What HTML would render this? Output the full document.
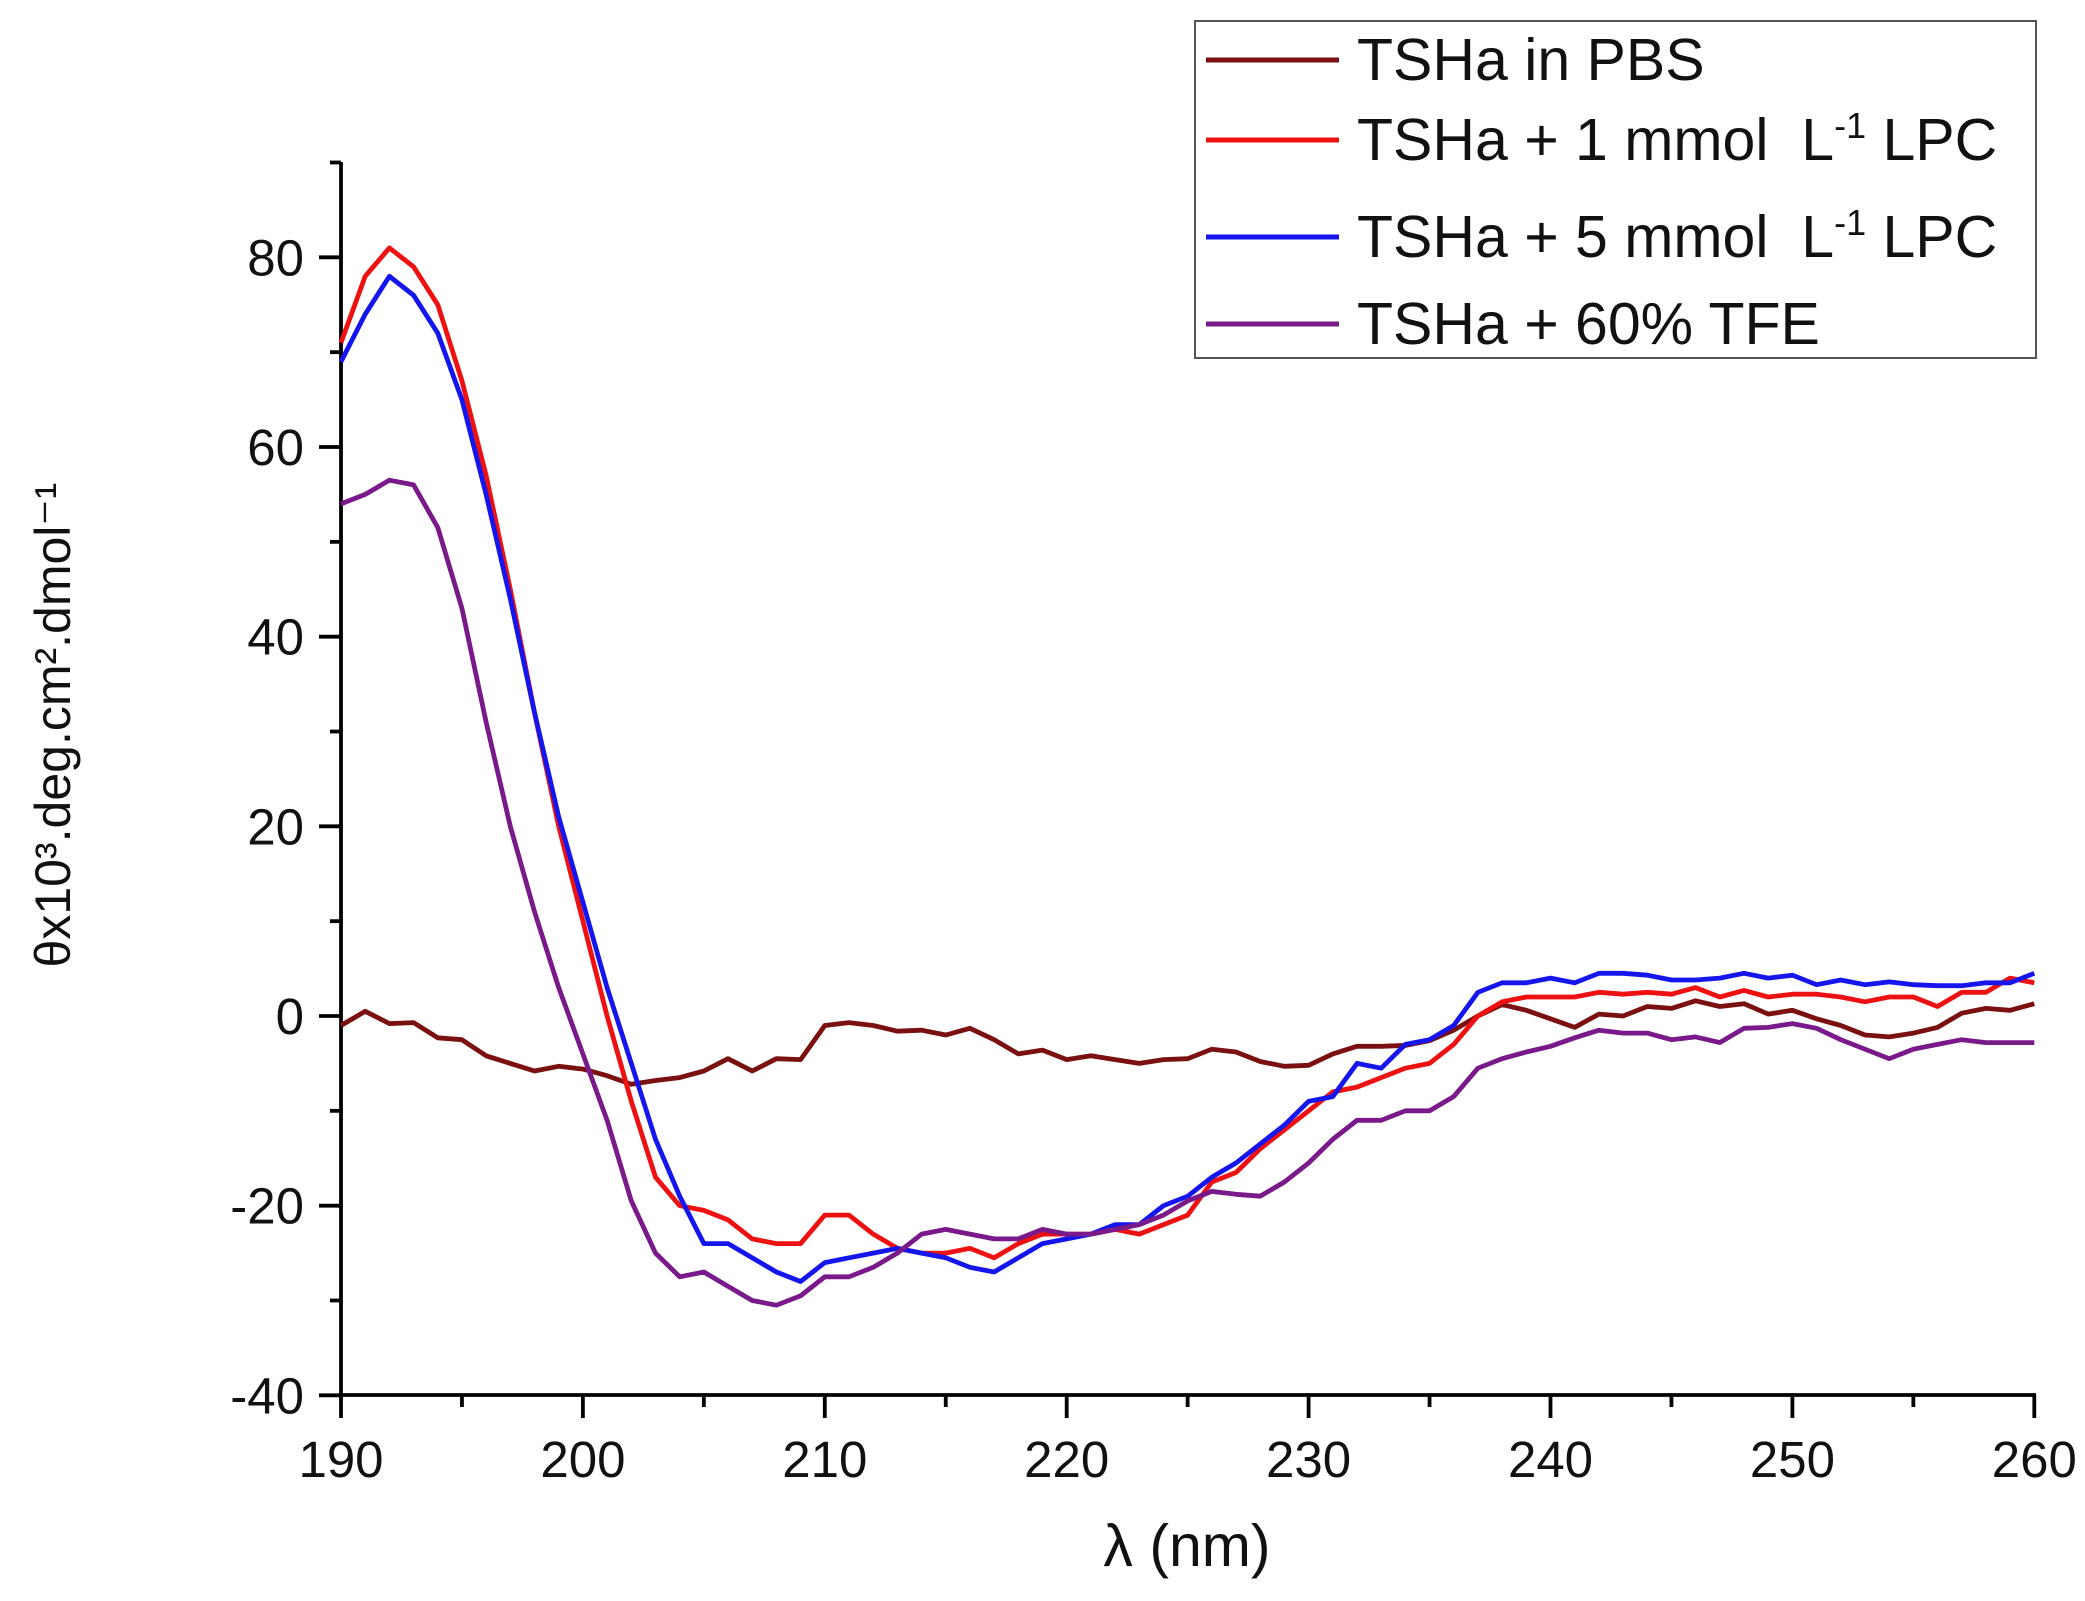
<!DOCTYPE html>
<html><head><meta charset="utf-8"><style>
html,body{margin:0;padding:0;background:#fff;}
svg{display:block;font-family:"Liberation Sans",Arial,sans-serif;}
</style></head><body>
<svg id="s" width="2085" height="1601" viewBox="0 0 2085 1601" xmlns="http://www.w3.org/2000/svg">
<rect width="2085" height="1601" fill="#fff"/>
<g id="axes" stroke="#000" stroke-width="3.8" fill="none"></g>
<g id="lbl" font-size="51" fill="#111"></g>
<g id="series" fill="none" stroke-width="4.8" stroke-linejoin="round"></g>
<text x="1187" y="1566" font-size="59" text-anchor="middle" fill="#111">λ (nm)</text>
<text transform="translate(70,725) rotate(-90)" font-size="50" text-anchor="middle" fill="#111">θx10³.deg.cm².dmol⁻¹</text>
<rect x="1195" y="21" width="841" height="337" fill="#fff" stroke="#555" stroke-width="2"/>
<g stroke-width="5">
<line x1="1206" y1="60" x2="1339" y2="60" stroke="#7a1010"/>
<line x1="1206" y1="140" x2="1339" y2="140" stroke="#ee1111"/>
<line x1="1206" y1="237" x2="1339" y2="237" stroke="#1515ee"/>
<line x1="1206" y1="324" x2="1339" y2="324" stroke="#7a1a8a"/>
</g>
<g font-size="59" fill="#111">
<text x="1357" y="80">TSHa in PBS</text>
<text x="1357" y="160">TSHa + 1 mmol&#160; L<tspan dy="-22" font-size="36">-1</tspan><tspan dy="22"> LPC</tspan></text>
<text x="1357" y="257">TSHa + 5 mmol&#160; L<tspan dy="-22" font-size="36">-1</tspan><tspan dy="22"> LPC</tspan></text>
<text x="1357" y="344">TSHa + 60% TFE</text>
</g>
</svg>
<script>
const X=v=>341+(v-190)*24.19, Y=v=>1016-v*9.4833;
const ns="http://www.w3.org/2000/svg";
function el(p,t,a,txt){const e=document.createElementNS(ns,t);for(const k in a)e.setAttribute(k,a[k]);if(txt!==undefined)e.textContent=txt;document.getElementById(p).appendChild(e);}
el('axes','line',{x1:341,y1:162,x2:341,y2:1397});
el('axes','line',{x1:339,y1:1395,x2:2036,y2:1395});
for(let v=190;v<=260;v+=5){const x=X(v),maj=v%10==0;el('axes','line',{x1:x,y1:1395,x2:x,y2:1395+(maj?23:12)});if(maj)el('lbl','text',{x:x,y:1477,'text-anchor':'middle'},String(v));}
for(let v=-40;v<=90;v+=10){const y=Y(v),maj=v%20==0;el('axes','line',{x1:341,y1:y,x2:341-(maj?22:11),y2:y});if(maj)el('lbl','text',{x:304,y:y+18,'text-anchor':'end'},String(v));}
const D={
"#7a1010":[-1,0.5,-0.8,-0.7,-2.3,-2.5,-4.2,-5,-5.8,-5.3,-5.6,-6.3,-7.2,-6.8,-6.5,-5.8,-4.5,-5.8,-4.5,-4.6,-1,-0.7,-1,-1.6,-1.5,-2,-1.3,-2.5,-4,-3.6,-4.6,-4.2,-4.6,-5,-4.6,-4.5,-3.5,-3.8,-4.8,-5.3,-5.2,-4,-3.2,-3.2,-3.1,-2.6,-1.5,0,1.2,0.6,-0.3,-1.2,0.2,0,1,0.8,1.6,1,1.3,0.2,0.6,-0.3,-1,-2,-2.2,-1.8,-1.2,0.3,0.8,0.6,1.3],
"#ee1111":[71,78,81,79,75,67,57,45,32,20,10,0,-9,-17,-20,-20.5,-21.5,-23.5,-24,-24,-21,-21,-23,-24.5,-25,-25,-24.5,-25.5,-24,-23,-23,-23,-22.5,-23,-22,-21,-17.5,-16.5,-14,-12,-10,-8,-7.5,-6.5,-5.5,-5,-3,0,1.5,2,2,2,2.5,2.3,2.5,2.3,3,2,2.7,2,2.3,2.3,2,1.5,2,2,1,2.5,2.5,4,3.5],
"#1515ee":[69,74,78,76,72,65,55,44,32,21,12,3,-5,-13,-19,-24,-24,-25.5,-27,-28,-26,-25.5,-25,-24.5,-25,-25.5,-26.5,-27,-25.5,-24,-23.5,-23,-22,-22,-20,-19,-17,-15.5,-13.5,-11.5,-9,-8.5,-5,-5.5,-3,-2.5,-1,2.5,3.5,3.5,4,3.5,4.5,4.5,4.3,3.8,3.8,4,4.5,4,4.3,3.3,3.8,3.3,3.6,3.3,3.2,3.2,3.5,3.5,4.5],
"#7a1a8a":[54,55,56.5,56,51.5,43,31,20,11,3,-4,-11,-19.5,-25,-27.5,-27,-28.5,-30,-30.5,-29.5,-27.5,-27.5,-26.5,-25,-23,-22.5,-23,-23.5,-23.5,-22.5,-23,-23,-22.5,-22,-21,-19.5,-18.5,-18.8,-19,-17.5,-15.5,-13,-11,-11,-10,-10,-8.5,-5.5,-4.5,-3.8,-3.2,-2.3,-1.5,-1.8,-1.8,-2.5,-2.2,-2.8,-1.3,-1.2,-0.8,-1.3,-2.5,-3.5,-4.5,-3.5,-3,-2.5,-2.8,-2.8,-2.8]};
for(const c in D){const d=D[c].map((v,i)=>(i?'L':'M')+X(190+i).toFixed(1)+','+Y(v).toFixed(1)).join('');el('series','path',{d:d,stroke:c});}
</script>
</body></html>
